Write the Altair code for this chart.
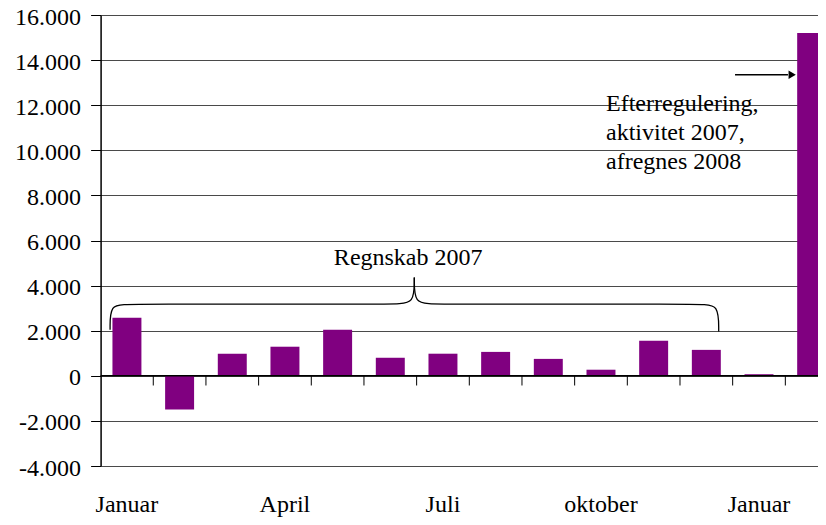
import altair as alt
import pandas as pd

# ---- data -------------------------------------------------------------
months = ["Januar", "Februar", "Marts", "April", "Maj", "Juni", "Juli",
          "August", "September", "oktober", "November", "December",
          "Januar 2008", "Efterregulering"]
values = [2570, -1490, 980, 1290, 2040, 800, 980, 1060, 750, 270, 1550,
          1150, 70, 15200]
tick_labels = ["Januar", "", "", "April", "", "", "Juli", "", "",
               "oktober", "", "", "Januar", ""]
y_ticks = list(range(-4000, 16001, 2000))

brace_label = "Regnskab 2007"
note_text = "Efterregulering,\naktivitet 2007,\nafregnes 2008"

# brace shape (control points in data units: month index, value)
brace_x = [0.18, 0.18, 0.5, 5.6, 5.956, 5.956,
           5.956, 5.956, 6.3, 11.4, 11.735, 11.735]
brace_y = [2040, 3180, 3180, 3180, 3180, 4360,
           4360, 3180, 3180, 3180, 3180, 1960]
brace_part = ["L"] * 6 + ["R"] * 6

FONT = "Liberation Serif"
n = len(months)
STEP_RANGE = [0, 737.4]

df = pd.DataFrame({"month": months, "value": values})
label_map = dict(zip(months, tick_labels))
expr = "''"
for k, v in reversed(list(label_map.items())):
    if v:
        expr = f"datum.value === '{k}' ? '{v}' : ({expr})"

band = alt.Scale(domain=months, range=STEP_RANGE, paddingInner=0.45,
                 paddingOuter=0.225)
lin = alt.Scale(domain=[0, n], range=STEP_RANGE, nice=False, zero=False)
yscale = alt.Scale(domain=[-4000, 16000], nice=False, zero=False)

yaxis = alt.Axis(
    values=y_ticks, title=None, grid=True, gridColor="#4a4a4a",
    gridWidth=1, domainColor="black", domainWidth=1.5, tickColor="black",
    tickSize=10, tickWidth=1, labelFont=FONT, labelFontSize=24,
    labelColor="black", labelPadding=10, labelOffset=2, labelFlush=False,
    labelBound=False,
    labelExpr="(datum.value < 0 ? '-' : '') + replace(format(abs(datum.value), ','), ',', '.')",
)
xaxis = alt.Axis(
    title=None, ticks=False, domain=False, grid=False, labelAngle=0,
    labelFont=FONT, labelFontSize=24, labelColor="black",
    labelBaseline="alphabetic", labelPadding=45, labelExpr=expr,
)

bars = alt.Chart(df).mark_bar(color="#800080").encode(
    x=alt.X("month:N", scale=band, sort=months, axis=xaxis),
    y=alt.Y("value:Q", scale=yscale, axis=yaxis),
)

zero = alt.Chart(pd.DataFrame({"v": [0]})).mark_rule(
    color="black", strokeWidth=1.5
).encode(y=alt.Y("v:Q", scale=yscale))

edges = pd.DataFrame({"e": list(range(1, n))})
cat_ticks = alt.Chart(edges).mark_rule(color="black", strokeWidth=1).encode(
    x=alt.X("e:Q", scale=lin, axis=None),
    y=alt.datum(0),
    y2=alt.datum(-430),
)

brace_df = pd.DataFrame({"bx": brace_x, "by": brace_y, "part": brace_part,
                         "i": list(range(len(brace_x)))})
brace = alt.Chart(brace_df).mark_line(
    color="black", strokeWidth=1.3, interpolate="basis"
).encode(
    x=alt.X("bx:Q", scale=lin, axis=None),
    y=alt.Y("by:Q", scale=yscale),
    detail="part:N",
    order="i:Q",
)

brace_text = alt.Chart(pd.DataFrame({"t": [brace_label]})).mark_text(
    font=FONT, fontSize=24, color="black", align="center",
    baseline="alphabetic"
).encode(
    x=alt.X("tx:Q", scale=lin, axis=None),
    y=alt.Y("ty:Q", scale=yscale),
    text="t:N",
).transform_calculate(tx="5.84", ty="4920")

note = alt.Chart(pd.DataFrame({"t": [note_text]})).mark_text(
    font=FONT, fontSize=24, color="black", align="left",
    baseline="alphabetic", lineBreak="\n", lineHeight=29
).encode(
    x=alt.X("tx:Q", scale=lin, axis=None),
    y=alt.Y("ty:Q", scale=yscale),
    text="t:N",
).transform_calculate(tx="9.596", ty="11750")

arrow_shaft = alt.Chart(pd.DataFrame({"a": [0]})).mark_rule(
    color="black", strokeWidth=1.5
).encode(
    x=alt.X("x1:Q", scale=lin, axis=None),
    x2="x2:Q",
    y=alt.Y("ay:Q", scale=yscale),
).transform_calculate(x1="12.045", x2="13.05", ay="13350")

arrow_head = alt.Chart(pd.DataFrame({"a": [0]})).mark_point(
    shape="triangle-right", filled=True, color="black", size=70, opacity=1
).encode(
    x=alt.X("hx:Q", scale=lin, axis=None),
    y=alt.Y("ay:Q", scale=yscale),
).transform_calculate(hx="13.13", ay="13350")

chart = alt.layer(
    bars, zero, cat_ticks, brace, brace_text, note, arrow_shaft, arrow_head
).resolve_scale(x="independent").properties(
    width=717.4, height=451,
    autosize=alt.AutoSizeParams(type="none"),
    padding={"left": 92.6, "top": 7, "right": 0, "bottom": 51},
    background="white",
).configure_view(stroke=None).configure_axis(labelFont=FONT)

chart.save("out.html", embed_options={"renderer": "svg", "actions": False})
